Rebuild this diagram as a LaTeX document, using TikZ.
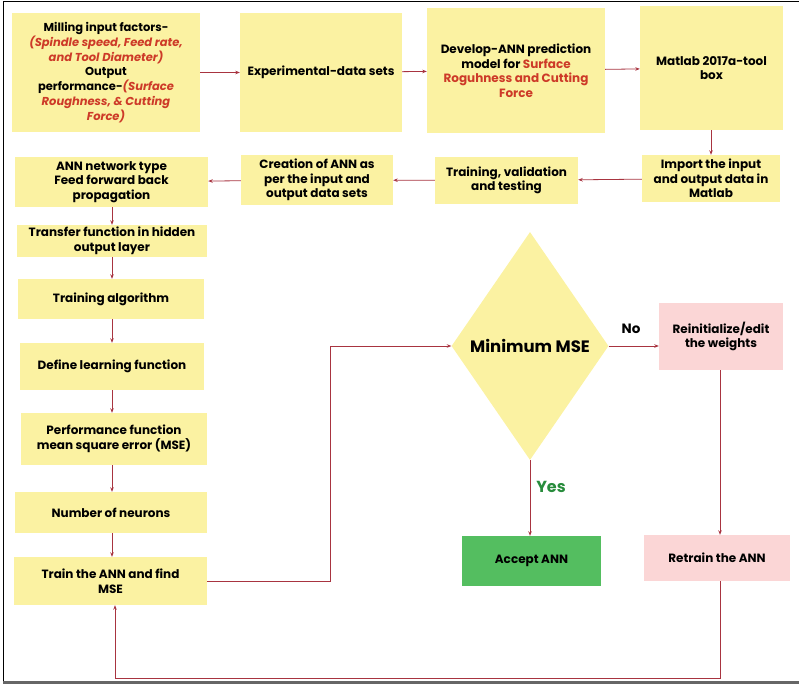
\documentclass[tikz,border=0pt]{standalone}
\usepackage{fontspec}
\setmainfont{Poppins}
\usepackage{tikz}
\usetikzlibrary{positioning}
\usetikzlibrary{shapes.geometric}
\usetikzlibrary{arrows.meta}
\definecolor{jauneboite}{RGB}{251,242,162}
\definecolor{roseboite}{RGB}{251,214,214}
\definecolor{verteboite}{RGB}{84,190,96}
\definecolor{flecherouge}{RGB}{168,52,64}
\definecolor{rougetexte}{RGB}{205,58,40}
\definecolor{vertetexte}{RGB}{40,140,60}

\begin{document}
\begin{tikzpicture}[x=1pt,y=-1pt]
% définition des paramètres
\tikzstyle boitejaune=[fill=jauneboite,align=center,inner sep=1pt,font=\bfseries\fontsize{12}{14.5}\selectfont]
\tikzstyle boiterose=[boitejaune,fill=roseboite]
\tikzstyle boiteverte=[boitejaune,fill=verteboite]
\tikzstyle losange=[diamond,fill=jauneboite,inner sep=0pt,font=\bfseries\fontsize{16.5}{18}\selectfont]
\tikzstyle fleche=[color=flecherouge,line width=0.8pt,-{Stealth[length=4.5pt,width=3.5pt]}]
\newcommand{\rougeit}[1]{{\color{rougetexte}\itshape #1}}
\newcommand{\rougedroit}[1]{{\color{rougetexte}#1}}
\newcommand{\xcolonne}{112} % abscisse de la colonne de gauche
\newcommand{\ybas}{678}     % ordonnée de la ligne de retour
\newcommand{\xboucle}{330}  % abscisse du retour vers le losange
% le cadre
\useasboundingbox (0,0) rectangle (799,684);
\draw [black,line width=1pt] (799,2)--(3,2)--(3,681);
\draw [black!60,line width=3pt] (3,682)--(799,682);
% la ligne du haut
\node[boitejaune,minimum width=188pt,minimum height=119pt,font=\bfseries\fontsize{11.5}{14.8}\selectfont] (milling) at (106,72.5)
  {Milling input factors-\\
   \rougeit{(Spindle speed, Feed rate,}\\
   \rougeit{and Tool Diameter)}\\
   Output\\
   performance-\rougeit{(Surface}\\
   \rougeit{Roughness, \& Cutting}\\
   \rougeit{Force)}};
\node[boitejaune,minimum width=162pt,minimum height=119pt] (expdata) at (321,72.5) {Experimental-data sets};
\node[boitejaune,minimum width=178pt,minimum height=125pt] (develop) at (516,70.5)
  {Develop-ANN prediction\\ model for \rougedroit{Surface}\\ \rougedroit{Roguhness and Cutting}\\ \rougedroit{Force}};
\node[boitejaune,minimum width=143pt,minimum height=124pt] (matlab) at (711.5,68) {Matlab 2017a-tool\\ box};
% la deuxième ligne
\node[boitejaune,minimum width=138pt,minimum height=47pt] (import) at (711,178.5) {Import the input\\ and output data in\\ Matlab};
\node[boitejaune,minimum width=143pt,minimum height=47pt] (training) at (506.5,180.5) {Training, validation\\ and testing};
\node[boitejaune,minimum width=152pt,minimum height=50pt] (creation) at (317,180) {Creation of ANN as\\ per the input and\\ output data sets};
\node[boitejaune,minimum width=193pt,minimum height=50pt] (anntype) at (111.5,182) {ANN network type\\ Feed forward back\\ propagation};
% la colonne de gauche
\node[boitejaune,minimum width=190pt,minimum height=32pt] (transfer) at (112,241) {Transfer function in hidden\\ output layer};
\node[boitejaune,minimum width=186pt,minimum height=40pt] (algo) at (111,299) {Training algorithm};
\node[boitejaune,minimum width=184pt,minimum height=47pt] (learning) at (112,366.5) {Define learning function};
\node[boitejaune,minimum width=186pt,minimum height=52pt] (perf) at (114,439) {Performance function\\ mean square error (MSE)};
\node[boitejaune,minimum width=192pt,minimum height=41pt] (neurons) at (111,512.5) {Number of neurons};
\node[boitejaune,minimum width=193pt,minimum height=48pt] (trainmse) at (110.5,581) {Train the ANN and find\\ MSE};
% la décision
\node[losange,minimum width=157pt,minimum height=228pt] (mse) at (530,346) {Minimum MSE};
\node[boiterose,minimum width=124pt,minimum height=67pt] (reinit) at (721,336.5) {Reinitialize/edit\\ the weights};
\node[boiteverte,minimum width=139pt,minimum height=50pt] (accept) at (531.5,561) {Accept ANN};
\node[boiterose,minimum width=146pt,minimum height=46pt] (retrain) at (717,558) {Retrain the ANN};
\node[font=\bfseries\fontsize{13.5}{15}\selectfont] (no) at (631,329) {No};
\node[font=\bfseries\fontsize{16}{18}\selectfont,color=vertetexte] (yes) at (551,487) {Yes};
% les flèches
\draw[fleche] (milling) -- (expdata);
\draw[fleche] (expdata) -- (develop);
\draw[fleche] (develop) -- (matlab);
\draw[fleche] (matlab.south -| import.north) -- (import.north);
\draw[fleche] (import) -- (training);
\draw[fleche] (training) -- (creation);
\draw[fleche] (creation) -- (anntype);
\draw[fleche] (anntype.south -| \xcolonne,0) -- (transfer.north -| \xcolonne,0);
\draw[fleche] (transfer.south -| \xcolonne,0) -- (algo.north -| \xcolonne,0);
\draw[fleche] (algo.south -| \xcolonne,0) -- (learning.north -| \xcolonne,0);
\draw[fleche] (learning.south -| \xcolonne,0) -- (perf.north -| \xcolonne,0);
\draw[fleche] (perf.south -| \xcolonne,0) -- (neurons.north -| \xcolonne,0);
\draw[fleche] (neurons.south -| \xcolonne,0) -- (trainmse.north -| \xcolonne,0);
\draw[fleche] (trainmse.east) -- (\xboucle,581) -- (\xboucle,346) -- (mse.west);
\draw[fleche] (mse.east) -- (mse.east -| reinit.west);
\draw[fleche] (mse.south) -- (mse.south |- accept.north);
\draw[fleche] (reinit.south -| 720,0) -- (retrain.north -| 720,0);
\draw[fleche] (retrain.south -| 720,0) -- (720,\ybas) -- (115,\ybas) -- (trainmse.south -| 115,0);
\end{tikzpicture}
\end{document}
